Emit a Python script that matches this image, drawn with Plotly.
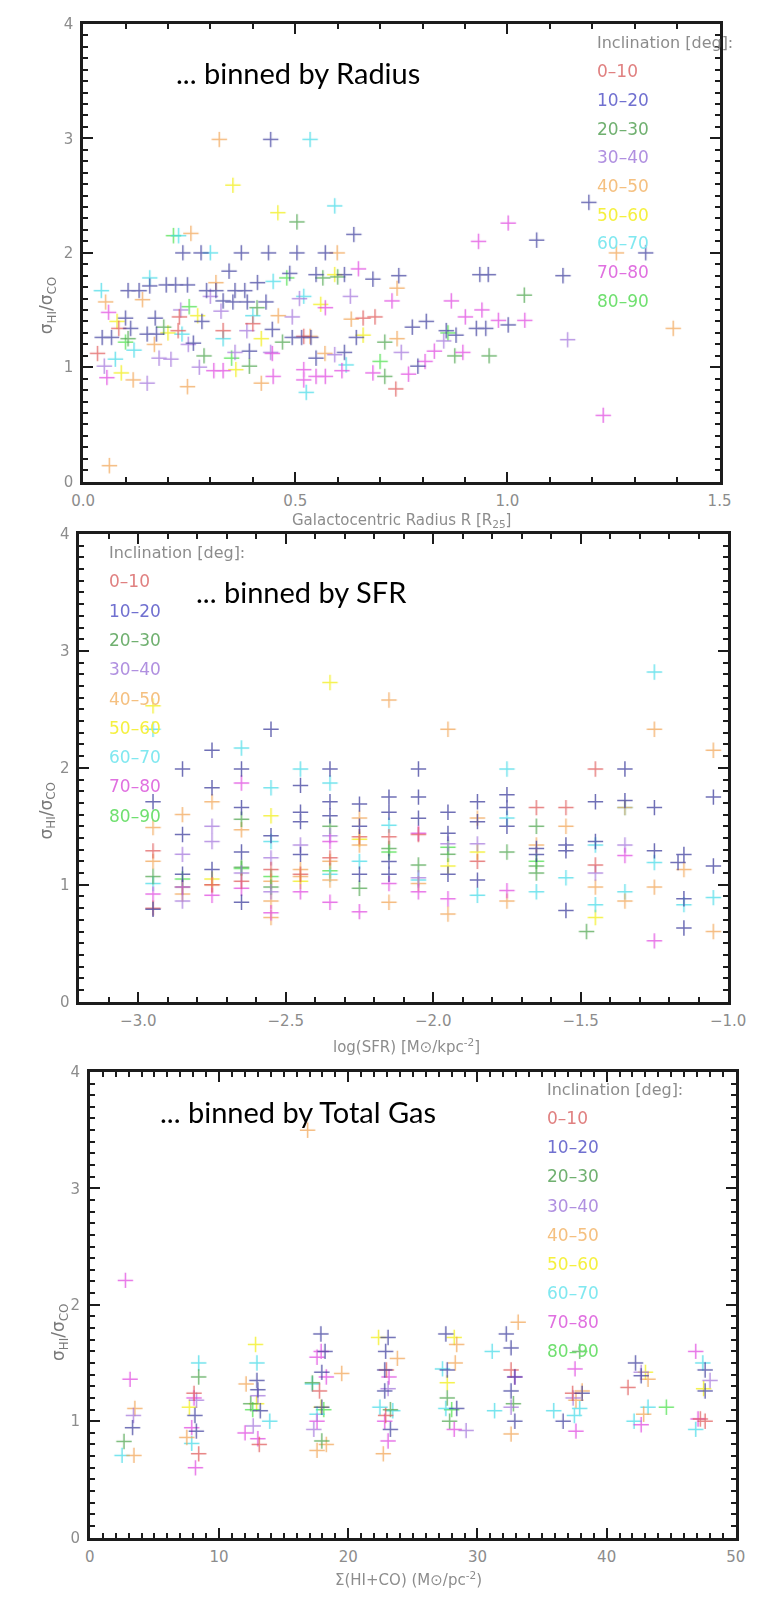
import plotly.graph_objects as go

W, H = 775, 1598

# Inclination bins and their plotting colours
INCL_BINS = ["0-10", "10-20", "20-30", "30-40", "40-50", "50-60", "60-70", "70-80", "80-90"]
INCL_COLORS = ["#e05a5a", "#40409e", "#4fa64f", "#a476dc", "#f2a555",
               "#f2ee10", "#45dbe8", "#e048e0", "#48e048"]
LABEL_COLORS = ["#e08080", "#7070d0", "#70b070", "#b090e0", "#f5c080",
                "#f5f040", "#80e8f0", "#e070e0", "#70e070"]

# ---- sigma_HI / sigma_CO binned by galactocentric radius (R / R25) ----
rad_0_10 = [(0.034, 1.12), (0.084, 1.34), (0.227, 1.44), (0.224, 1.32), (0.33, 1.32),
            (0.66, 1.43), (0.688, 1.44), (0.737, 0.81), (0.52, 1.27), (0.40, 1.38)]
rad_10_20 = [(0.442, 2.99), (0.235, 2.0), (0.278, 2.0), (0.373, 2.0), (0.437, 2.0), (0.504, 2.0),
             (0.571, 2.0), (0.638, 2.16), (0.487, 1.82), (0.549, 1.81), (0.616, 1.81), (0.683, 1.77),
             (0.744, 1.80), (0.106, 1.67), (0.132, 1.67), (0.157, 1.71), (0.196, 1.72), (0.218, 1.72),
             (0.246, 1.72), (0.291, 1.67), (0.313, 1.67), (0.358, 1.67), (0.381, 1.67), (0.411, 1.74),
             (0.344, 1.84), (0.10, 1.43), (0.112, 1.34), (0.067, 1.26), (0.045, 1.26), (0.151, 1.29),
             (0.173, 1.29), (0.330, 1.58), (0.353, 1.57), (0.387, 1.57), (0.431, 1.57), (0.446, 1.33),
             (0.493, 1.26), (0.515, 1.26), (0.537, 1.26), (0.644, 1.26), (0.776, 1.35), (0.809, 1.40),
             (0.856, 1.32), (0.879, 1.28), (0.927, 1.34), (0.949, 1.34), (1.002, 1.37), (0.935, 1.81),
             (0.955, 1.81), (1.069, 2.11), (1.131, 1.80), (1.192, 2.44), (1.326, 2.0), (0.789, 1.01),
             (0.392, 1.14), (0.549, 1.08), (0.616, 1.13), (0.17, 1.43), (0.26, 1.21), (0.28, 1.40)]
rad_20_30 = [(0.504, 2.27), (0.565, 1.78), (1.04, 1.63), (0.957, 1.10), (0.876, 1.10), (0.711, 1.22),
             (0.711, 0.92), (0.106, 1.25), (0.285, 1.10), (0.392, 1.01), (0.41, 1.52), (0.60, 1.79),
             (0.19, 1.35), (0.47, 1.22)]
rad_30_40 = [(0.05, 1.01), (0.151, 0.86), (0.274, 1.0), (0.248, 1.2), (0.358, 1.13), (0.442, 1.13),
             (0.325, 1.49), (0.386, 1.32), (0.493, 1.44), (0.593, 1.11), (0.179, 1.08), (0.207, 1.07),
             (0.85, 1.23), (0.75, 1.13), (1.142, 1.24), (0.63, 1.62), (0.51, 1.60), (0.30, 1.62),
             (0.23, 1.50)]
rad_40_50 = [(0.321, 2.99), (0.254, 2.17), (0.246, 0.83), (0.420, 0.86), (1.391, 1.34), (1.257, 2.0),
             (0.118, 0.89), (0.053, 1.57), (0.14, 1.59), (0.313, 1.74), (0.599, 2.0), (0.74, 1.69),
             (0.632, 1.42), (0.535, 1.27), (0.168, 1.2), (0.062, 0.14), (0.74, 1.25), (0.46, 1.45),
             (0.57, 1.12)]
rad_50_60 = [(0.353, 2.59), (0.459, 2.35), (0.593, 1.81), (0.08, 1.40), (0.20, 1.30), (0.27, 1.45),
             (0.42, 1.25), (0.56, 1.55), (0.66, 1.28), (0.09, 0.95), (0.36, 0.98)]
rad_60_70 = [(0.535, 2.99), (0.593, 2.41), (0.043, 1.67), (0.30, 2.0), (0.526, 0.78), (0.157, 1.78),
             (0.448, 1.75), (0.076, 1.07), (0.233, 1.29), (0.225, 2.15), (0.33, 1.25), (0.52, 1.62),
             (0.12, 1.15), (0.40, 1.45), (0.62, 1.02)]
rad_70_80 = [(1.002, 2.26), (0.932, 2.10), (0.649, 1.86), (0.728, 1.58), (0.868, 1.58), (0.94, 1.50),
             (0.979, 1.41), (1.041, 1.41), (1.226, 0.58), (0.056, 0.91), (0.308, 0.97), (0.33, 0.97),
             (0.448, 0.92), (0.52, 0.98), (0.52, 0.89), (0.549, 0.92), (0.571, 0.92), (0.61, 0.97),
             (0.683, 0.95), (0.767, 0.94), (0.806, 1.05), (0.828, 1.14), (0.895, 1.13), (0.901, 1.44),
             (0.571, 1.52), (0.446, 1.12), (0.06, 1.48)]
rad_80_90 = [(0.213, 2.15), (0.10, 1.22), (0.35, 1.08), (0.48, 1.78), (0.86, 1.30), (0.70, 1.05),
             (0.25, 1.53)]

# ---- binned by log star formation rate surface density ----
sfr_0_10 = [(-2.95, 1.29), (-2.95, 0.80), (-2.65, 1.03), (-2.55, 1.13), (-2.45, 1.09), (-2.35, 1.23),
            (-2.25, 1.41), (-2.15, 1.41), (-2.05, 1.43), (-1.85, 1.20), (-1.65, 1.66), (-1.55, 1.66),
            (-1.45, 1.99), (-1.45, 1.17), (-2.75, 1.00)]
sfr_10_20 = [(-2.95, 1.71), (-2.95, 0.79), (-2.85, 1.99), (-2.85, 1.43), (-2.85, 1.09), (-2.75, 2.15),
             (-2.75, 1.83), (-2.75, 1.13), (-2.65, 1.99), (-2.65, 1.66), (-2.65, 1.28), (-2.65, 0.85),
             (-2.55, 2.33), (-2.55, 1.42), (-2.45, 1.85), (-2.45, 1.62), (-2.45, 1.54), (-2.45, 1.26),
             (-2.35, 1.99), (-2.35, 1.71), (-2.35, 1.59), (-2.25, 1.69), (-2.25, 1.50), (-2.25, 1.09),
             (-2.15, 1.75), (-2.15, 1.62), (-2.15, 1.20), (-2.15, 1.09), (-2.05, 1.99), (-2.05, 1.75),
             (-2.05, 1.57), (-1.95, 1.62), (-1.95, 1.44), (-1.95, 1.09), (-1.85, 1.71), (-1.85, 1.54),
             (-1.85, 1.04), (-1.75, 1.77), (-1.75, 1.66), (-1.75, 1.50), (-1.65, 1.31), (-1.65, 1.26),
             (-1.55, 1.34), (-1.55, 1.29), (-1.55, 0.78), (-1.45, 1.71), (-1.45, 1.37), (-1.35, 1.99),
             (-1.35, 1.72), (-1.25, 1.66), (-1.25, 1.29), (-1.17, 1.19), (-1.15, 1.26), (-1.15, 0.88),
             (-1.15, 0.63), (-1.05, 1.75), (-1.05, 1.16)]
sfr_20_30 = [(-2.95, 1.07), (-2.85, 0.98), (-2.65, 1.56), (-2.65, 1.15), (-2.55, 0.98), (-2.35, 1.50),
             (-2.25, 0.97), (-2.15, 1.31), (-2.05, 1.17), (-1.95, 1.26), (-1.75, 1.28), (-1.65, 1.16),
             (-1.65, 1.10), (-1.65, 1.50), (-1.48, 0.60)]
sfr_30_40 = [(-2.85, 1.26), (-2.85, 0.86), (-2.75, 1.50), (-2.75, 1.37), (-2.65, 1.10), (-2.55, 1.23),
             (-2.55, 0.94), (-2.45, 1.34), (-2.05, 1.06), (-1.95, 1.35), (-1.85, 1.35), (-1.45, 1.10),
             (-1.35, 1.34), (-2.35, 1.42)]
sfr_40_50 = [(-2.95, 1.49), (-2.95, 1.20), (-2.85, 1.60), (-2.85, 0.92), (-2.75, 1.71), (-2.75, 1.00),
             (-2.65, 1.47), (-2.55, 1.03), (-2.55, 0.86), (-2.55, 0.72), (-2.45, 1.07), (-2.45, 1.13),
             (-2.35, 1.20), (-2.35, 1.04), (-2.25, 1.34), (-2.25, 1.57), (-2.15, 2.58), (-2.15, 0.85),
             (-2.05, 1.01), (-1.95, 2.33), (-1.95, 0.75), (-1.85, 1.57), (-1.75, 0.86), (-1.65, 1.34),
             (-1.55, 1.50), (-1.45, 0.98), (-1.35, 1.66), (-1.35, 0.86), (-1.25, 2.33), (-1.25, 0.98),
             (-1.15, 1.13), (-1.05, 2.15), (-1.05, 0.60)]
sfr_50_60 = [(-2.35, 2.73), (-2.55, 1.59), (-2.75, 1.05), (-2.45, 1.03), (-2.25, 1.39), (-1.95, 1.16),
             (-1.85, 1.28), (-2.95, 2.53), (-1.45, 0.72)]
sfr_60_70 = [(-2.95, 2.33), (-2.95, 1.01), (-2.65, 2.17), (-2.55, 1.83), (-2.55, 1.37), (-2.45, 1.99),
             (-2.35, 1.87), (-2.35, 1.09), (-2.25, 1.20), (-2.15, 1.51), (-2.05, 1.04), (-1.85, 0.91),
             (-1.75, 1.99), (-1.75, 1.57), (-1.65, 0.94), (-1.55, 1.06), (-1.45, 1.34), (-1.45, 0.83),
             (-1.35, 1.66), (-1.35, 0.94), (-1.25, 2.82), (-1.25, 1.19), (-1.15, 0.83), (-1.05, 0.89)]
sfr_70_80 = [(-2.95, 0.92), (-2.85, 0.98), (-2.75, 0.91), (-2.65, 1.87), (-2.65, 0.97), (-2.55, 0.76),
             (-2.45, 0.94), (-2.35, 1.37), (-2.35, 0.85), (-2.25, 0.77), (-2.15, 1.01), (-2.05, 0.94),
             (-2.05, 1.44), (-1.95, 0.88), (-1.75, 0.95), (-1.35, 1.25), (-1.25, 0.52)]
sfr_80_90 = [(-2.85, 1.05), (-2.65, 1.14), (-2.55, 1.07), (-2.35, 1.12), (-2.15, 1.28), (-1.95, 1.32),
             (-1.65, 1.20)]

# ---- binned by total gas surface density Sigma(HI+CO) ----
gas_0_10 = [(8.06, 1.24), (8.42, 0.72), (13.11, 0.80), (17.77, 1.26), (22.95, 1.44), (22.89, 1.05),
            (32.6, 1.44), (37.36, 1.24), (41.65, 1.29), (47.25, 1.02), (47.62, 1.0)]
gas_10_20 = [(3.30, 0.945), (8.13, 1.05), (8.24, 0.915), (13.0, 1.27), (13.19, 1.09), (12.93, 1.35),
             (17.88, 1.75), (18.2, 1.60), (17.95, 1.42), (17.95, 1.12), (23.08, 1.72), (22.89, 1.60),
             (22.82, 1.44), (22.82, 1.26), (23.26, 0.93), (27.55, 1.75), (27.66, 1.44), (28.39, 1.11),
             (32.23, 1.75), (32.6, 1.63), (32.6, 1.26), (32.89, 1.0), (32.89, 1.38), (36.63, 1.0),
             (38.1, 1.24), (42.23, 1.50), (42.67, 1.39), (47.62, 1.44), (47.62, 1.26)]
gas_20_30 = [(2.64, 0.826), (8.42, 1.38), (12.45, 1.15), (17.22, 1.33), (17.95, 0.83), (23.26, 1.1),
             (27.66, 1.20), (27.84, 1.0), (32.78, 1.15), (37.91, 1.60)]
gas_30_40 = [(3.37, 1.05), (8.25, 1.18), (12.64, 0.96), (13.0, 1.22), (17.33, 0.93), (23.08, 1.28),
             (29.12, 0.92), (32.6, 1.12), (37.4, 1.20), (42.67, 1.42), (48.0, 1.35)]
gas_40_50 = [(3.48, 1.11), (3.41, 0.707), (7.5, 0.86), (12.09, 1.32), (16.85, 3.50), (17.58, 0.75),
             (18.3, 0.80), (19.49, 1.41), (22.71, 0.72), (23.8, 1.54), (28.39, 1.66), (28.28, 1.50),
             (33.15, 1.85), (32.6, 0.89), (38.1, 1.26), (37.62, 1.18), (43.2, 1.36), (42.86, 1.06)]
gas_50_60 = [(12.82, 1.66), (7.7, 1.12), (12.9, 1.15), (17.9, 1.12), (22.34, 1.72), (28.2, 1.72),
             (27.66, 1.33), (43.0, 1.42), (47.5, 1.28)]
gas_60_70 = [(2.49, 0.707), (8.42, 1.50), (7.88, 0.81), (12.93, 1.50), (13.92, 1.0), (17.22, 1.32),
             (17.58, 1.06), (22.45, 1.12), (23.44, 1.09), (27.29, 1.45), (27.55, 1.11), (31.14, 1.60),
             (31.32, 1.09), (35.9, 1.09), (37.91, 1.11), (37.5, 1.05), (43.2, 1.12), (42.12, 1.0),
             (47.44, 1.50), (46.89, 0.93)]
gas_70_80 = [(2.75, 2.21), (3.11, 1.36), (8.06, 1.20), (7.88, 0.945), (8.17, 0.60), (12.01, 0.90),
             (13.0, 0.85), (17.58, 1.55), (18.3, 1.38), (17.58, 1.0), (17.9, 1.60), (23.15, 1.38),
             (22.82, 1.0), (23.08, 0.83), (28.2, 0.93), (32.89, 1.38), (37.55, 1.45), (37.62, 0.915),
             (42.67, 0.97), (46.89, 1.60), (47.07, 1.02)]
gas_80_90 = [(12.6, 1.10), (18.1, 1.10), (44.62, 1.12), (28.0, 1.1)]

PANELS = [
    [rad_0_10, rad_10_20, rad_20_30, rad_30_40, rad_40_50, rad_50_60, rad_60_70, rad_70_80, rad_80_90],
    [sfr_0_10, sfr_10_20, sfr_20_30, sfr_30_40, sfr_40_50, sfr_50_60, sfr_60_70, sfr_70_80, sfr_80_90],
    [gas_0_10, gas_10_20, gas_20_30, gas_30_40, gas_40_50, gas_50_60, gas_60_70, gas_70_80, gas_80_90],
]

# Draw order: paler colours first so darker crosses sit on top
DRAW_ORDER = [5, 8, 6, 4, 2, 3, 7, 0, 1]


def fx(px):
    return px / W


def fy(py):
    return 1 - py / H


# Frame boxes in pixels: (left, right, top, bottom)
BOXES = [(74, 736, 15, 478), (70, 745, 531, 1004), (81, 753, 1075, 1546)]
XRANGES = [[0, 1.5], [-3.2, -1.0], [0, 50]]
XTICKS = [dict(tick0=0, dtick=0.5, tickformat=".1f", minor_dtick=0.1),
          dict(tick0=-3.0, dtick=0.5, tickformat=".1f", minor_dtick=0.1),
          dict(tick0=0, dtick=10, tickformat="d", minor_dtick=1)]

fig = go.Figure()

AX_LINE = "#1c1c1c"
TICK_FONT = dict(family="DejaVu Sans", size=15, color="#8c8c8c")

layout_axes = {}
for i, (box, xr, xt) in enumerate(zip(BOXES, XRANGES, XTICKS)):
    l, r, t, b = box
    n = "" if i == 0 else str(i + 1)
    layout_axes["xaxis" + n] = dict(
        domain=[fx(l), fx(r)], anchor="y" + n, range=xr,
        tick0=xt["tick0"], dtick=xt["dtick"], tickformat=xt["tickformat"],
        showline=True, linewidth=2.5, linecolor=AX_LINE, mirror="allticks",
        ticks="inside", ticklen=10, tickwidth=2, tickcolor=AX_LINE,
        minor=dict(dtick=xt["minor_dtick"], ticks="inside", ticklen=5, tickwidth=2, tickcolor=AX_LINE),
        showgrid=False, zeroline=False, tickfont=TICK_FONT, ticklabelstandoff=4,
    )
    layout_axes["yaxis" + n] = dict(
        domain=[fy(b), fy(t)], anchor="x" + n, range=[0, 4], tick0=0, dtick=1,
        showline=True, linewidth=2.5, linecolor=AX_LINE, mirror="allticks",
        ticks="inside", ticklen=10, tickwidth=2, tickcolor=AX_LINE,
        minor=dict(dtick=0.1, ticks="inside", ticklen=5, tickwidth=2, tickcolor=AX_LINE),
        showgrid=False, zeroline=False, tickfont=TICK_FONT, ticklabelstandoff=4,
    )

    for k in DRAW_ORDER:
        pts = PANELS[i][k]
        fig.add_trace(go.Scatter(
            x=[p[0] for p in pts], y=[p[1] for p in pts], mode="markers",
            xaxis="x" + n, yaxis="y" + n, showlegend=False, opacity=0.75,
            marker=dict(symbol="cross-thin", size=11,
                        line=dict(width=1.5, color=INCL_COLORS[k])),
            name=INCL_BINS[k],
        ))

annotations = []


def text(x, y, s, size, color, xanchor="left", family="DejaVu Sans", angle=0):
    annotations.append(dict(
        x=fx(x), y=fy(y), xref="paper", yref="paper", text=s, showarrow=False,
        xanchor=xanchor, yanchor="middle", textangle=angle,
        font=dict(family=family, size=size, color=color),
    ))


# Inclination keys: (left x, header y, first entry y, step)
KEYS = [(606, 34, 63, 29.0), (99, 550, 579, 29.6), (554, 1093, 1122, 29.4)]
for lx, hy, ey, step in KEYS:
    text(lx, hy, "Inclination [deg]:", 16, "#8c8c8c")
    for k, lab in enumerate(INCL_BINS):
        text(lx, ey + step * k, lab.replace("-", "\u2013"), 17, LABEL_COLORS[k])

# Panel captions
CAPTIONS = [(169, 64, "... binned by Radius"), (189, 589, "... binned by SFR"),
            (152, 1115, "... binned by Total Gas")]
for cx, cy, s in CAPTIONS:
    text(cx, cy, s, 29, "#000000", family="Lato")

# Axis titles
YTITLE = "\u03c3<sub>HI</sub>/\u03c3<sub>CO</sub>"
for tx, ty in [(37, 300), (37, 811), (50, 1339)]:
    text(tx, ty, YTITLE, 17, "#7a7a7a", xanchor="center", angle=-90)

XTITLES = [(405, 517, "Galactocentric Radius R [R<sub>25</sub>]"),
           (410, 1049, "log(SFR) [M\u2299/kpc<sup>-2</sup>]"),
           (412, 1588, "\u03a3(HI+CO) (M\u2299/pc<sup>-2</sup>)")]
for tx, ty, s in XTITLES:
    text(tx, ty, s, 15, "#8c8c8c", xanchor="center")

fig.update_layout(
    width=W, height=H, margin=dict(l=0, r=0, t=0, b=0),
    paper_bgcolor="white", plot_bgcolor="white",
    annotations=annotations, **layout_axes,
)

fig.write_html("out.html")
